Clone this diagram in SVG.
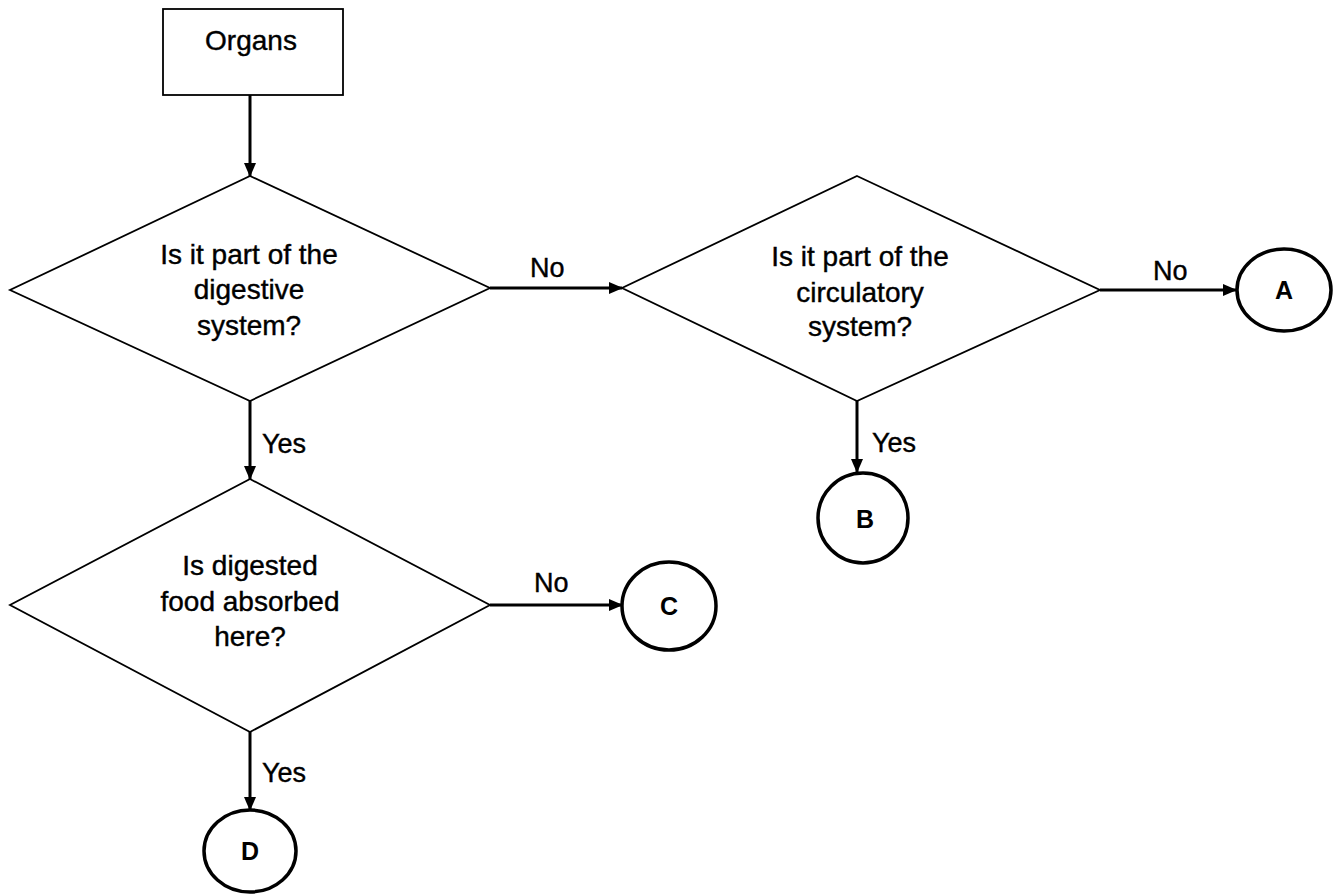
<svg xmlns="http://www.w3.org/2000/svg" width="1340" height="896" viewBox="0 0 1340 896">
<defs>
<marker id="ah" markerWidth="14" markerHeight="14" refX="13" refY="7" orient="auto" markerUnits="userSpaceOnUse" viewBox="0 0 14 14">
<path d="M0,1 L14,7 L0,13 z" fill="#000"/>
</marker>
<style>
.shape{fill:#fff;stroke:#000;stroke-width:1.8}
.term{fill:#fff;stroke:#000;stroke-width:3.5}
.conn{fill:none;stroke:#000;stroke-width:3;marker-end:url(#ah)}
.t{font-family:"Liberation Sans",Arial,sans-serif;font-size:28px;fill:#000;stroke:#000;stroke-width:0.4;text-anchor:middle}
.b{font-family:"Liberation Sans",Arial,sans-serif;font-size:25px;font-weight:bold;fill:#000;text-anchor:middle}
.lbl{font-family:"Liberation Sans",Arial,sans-serif;font-size:27px;fill:#000;stroke:#000;stroke-width:0.4}
</style>
</defs>
<rect width="1340" height="896" fill="#fff"/>
<g id="connectors">
<line class="conn" x1="250" y1="95" x2="250" y2="176"/>
<line class="conn" x1="490" y1="288" x2="622" y2="288"/>
<line class="conn" x1="1100" y1="290" x2="1236" y2="290"/>
<line class="conn" x1="857" y1="401" x2="857" y2="472"/>
<line class="conn" x1="250" y1="401" x2="250" y2="479"/>
<line class="conn" x1="490" y1="605" x2="622" y2="605"/>
<line class="conn" x1="250" y1="732" x2="250" y2="810"/>
<text class="lbl" x="530" y="277">No</text>
<text class="lbl" x="1153" y="280">No</text>
<text class="lbl" x="872" y="452">Yes</text>
<text class="lbl" x="262" y="453">Yes</text>
<text class="lbl" x="534" y="592">No</text>
<text class="lbl" x="262" y="782">Yes</text>
</g>
<g id="organs">
<rect class="shape" x="163" y="9" width="180" height="86"/>
<text class="t" x="251" y="50">Organs</text>
</g>
<g id="q-digestive">
<polygon class="shape" points="250,176 490,288 250,401 10,290"/>
<text class="t" x="249" y="264">Is it part of the</text>
<text class="t" x="249" y="299">digestive</text>
<text class="t" x="249" y="335">system?</text>
</g>
<g id="q-circulatory">
<polygon class="shape" points="857,176 1100,290 857,401 622,288"/>
<text class="t" x="860" y="266">Is it part of the</text>
<text class="t" x="860" y="302">circulatory</text>
<text class="t" x="860" y="336">system?</text>
</g>
<g id="q-absorbed">
<polygon class="shape" points="250,479 490,605 250,732 10,605"/>
<text class="t" x="250" y="575">Is digested</text>
<text class="t" x="250" y="611">food absorbed</text>
<text class="t" x="250" y="646">here?</text>
</g>
<g id="A">
<ellipse class="term" cx="1284" cy="290" rx="47" ry="41"/>
<text class="b" x="1284" y="299">A</text>
</g>
<g id="B">
<ellipse class="term" cx="863" cy="518" rx="45" ry="45"/>
<text class="b" x="865" y="528">B</text>
</g>
<g id="C">
<ellipse class="term" cx="669" cy="606" rx="47" ry="44"/>
<text class="b" x="669" y="615">C</text>
</g>
<g id="D">
<ellipse class="term" cx="250" cy="851" rx="46" ry="41"/>
<text class="b" x="250" y="860">D</text>
</g>
</svg>
